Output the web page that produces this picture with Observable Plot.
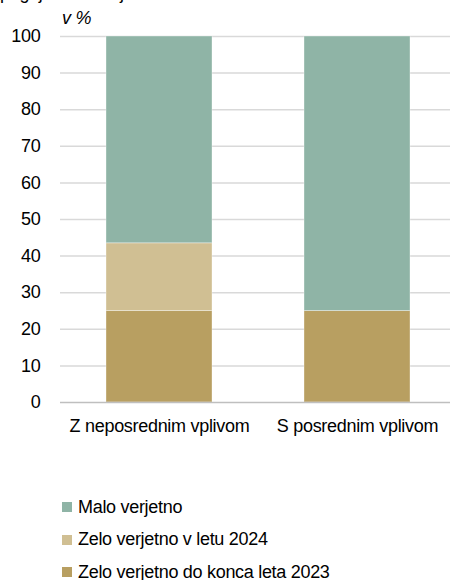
<!DOCTYPE html>
<html>
<head>
<meta charset="utf-8">
<script src="https://cdn.jsdelivr.net/npm/d3@7"></script>
<script src="https://cdn.jsdelivr.net/npm/@observablehq/plot@0.6"></script>
<style>
  html, body { margin: 0; padding: 0; background: #fff; }
  body { width: 450px; height: 580px; position: relative; overflow: hidden; font-family: "Liberation Sans", Arial, sans-serif; color: #000; letter-spacing: -0.3px; }
  #title { position: absolute; left: 0; top: -17px; font-size: 18px; white-space: nowrap; }
  #unit { position: absolute; left: 62px; top: 8px; font-size: 18px; font-style: italic; }
  #chart { position: absolute; left: 0; top: 0; }
  #legend { position: absolute; left: 62px; top: 491px; font-size: 18px; }
  .row { display: flex; align-items: center; height: 32.5px; }
  .sw { width: 10px; height: 10px; margin-right: 6px; }
</style>
</head>
<body>
<div id="title">pogoji v industriji</div>
<div id="unit">v %</div>
<div id="chart"></div>
<div id="legend"></div>
<script>
const categories = ["Z neposrednim vplivom", "S posrednim vplivom"];
const seriesNames = ["Zelo verjetno do konca leta 2023", "Zelo verjetno v letu 2024", "Malo verjetno"];
const values2023 = [25, 25];
const values2024 = [18.5, 0];
const valuesMalo = [56.5, 75];
const colors = ["#b89f61", "#d0bf93", "#8fb4a6"];
const yTicks = [0, 10, 20, 30, 40, 50, 60, 70, 80, 90, 100];
const legendOrder = ["Malo verjetno", "Zelo verjetno v letu 2024", "Zelo verjetno do konca leta 2023"];

const seriesValues = [values2023, values2024, valuesMalo];
const data = [];
seriesNames.forEach((s, si) => {
  categories.forEach((c, ci) => {
    data.push({category: c, series: s, value: seriesValues[si][ci]});
  });
});

const chart = Plot.plot({
  width: 450,
  height: 450,
  marginLeft: 60,
  marginRight: 0,
  marginTop: 36,
  marginBottom: 48,
  style: {fontFamily: "'Liberation Sans', Arial, sans-serif", fontSize: "18px", color: "#000", background: "transparent", letterSpacing: "-0.3px"},
  x: {domain: categories, range: [66, 450], paddingInner: 0.466, paddingOuter: 0.2, label: null},
  y: {domain: [0, 100], label: null},
  color: {domain: seriesNames, range: colors},
  marks: [
    Plot.ruleY(yTicks.filter(d => d > 0), {stroke: "#d9d9d9", strokeWidth: 1.5}),
    Plot.barY(data, {x: "category", y: "value", fill: "series", inset: 0, stroke: "#fff", strokeOpacity: 0.35, strokeWidth: 1}),
    Plot.ruleY([0], {stroke: "#bfbfbf", strokeWidth: 1.5}),
    Plot.axisY({ticks: yTicks, tickSize: 0, tickPadding: 20, fontSize: 18}),
    Plot.axisX({tickSize: 0, tickPadding: 17, fontSize: 18})
  ]
});
document.getElementById("chart").appendChild(chart);

const legend = document.getElementById("legend");
legendOrder.forEach(name => {
  const row = document.createElement("div");
  row.className = "row";
  const sw = document.createElement("div");
  sw.className = "sw";
  sw.style.background = colors[seriesNames.indexOf(name)];
  const t = document.createElement("span");
  t.textContent = name;
  row.appendChild(sw);
  row.appendChild(t);
  legend.appendChild(row);
});
</script>
</body>
</html>
